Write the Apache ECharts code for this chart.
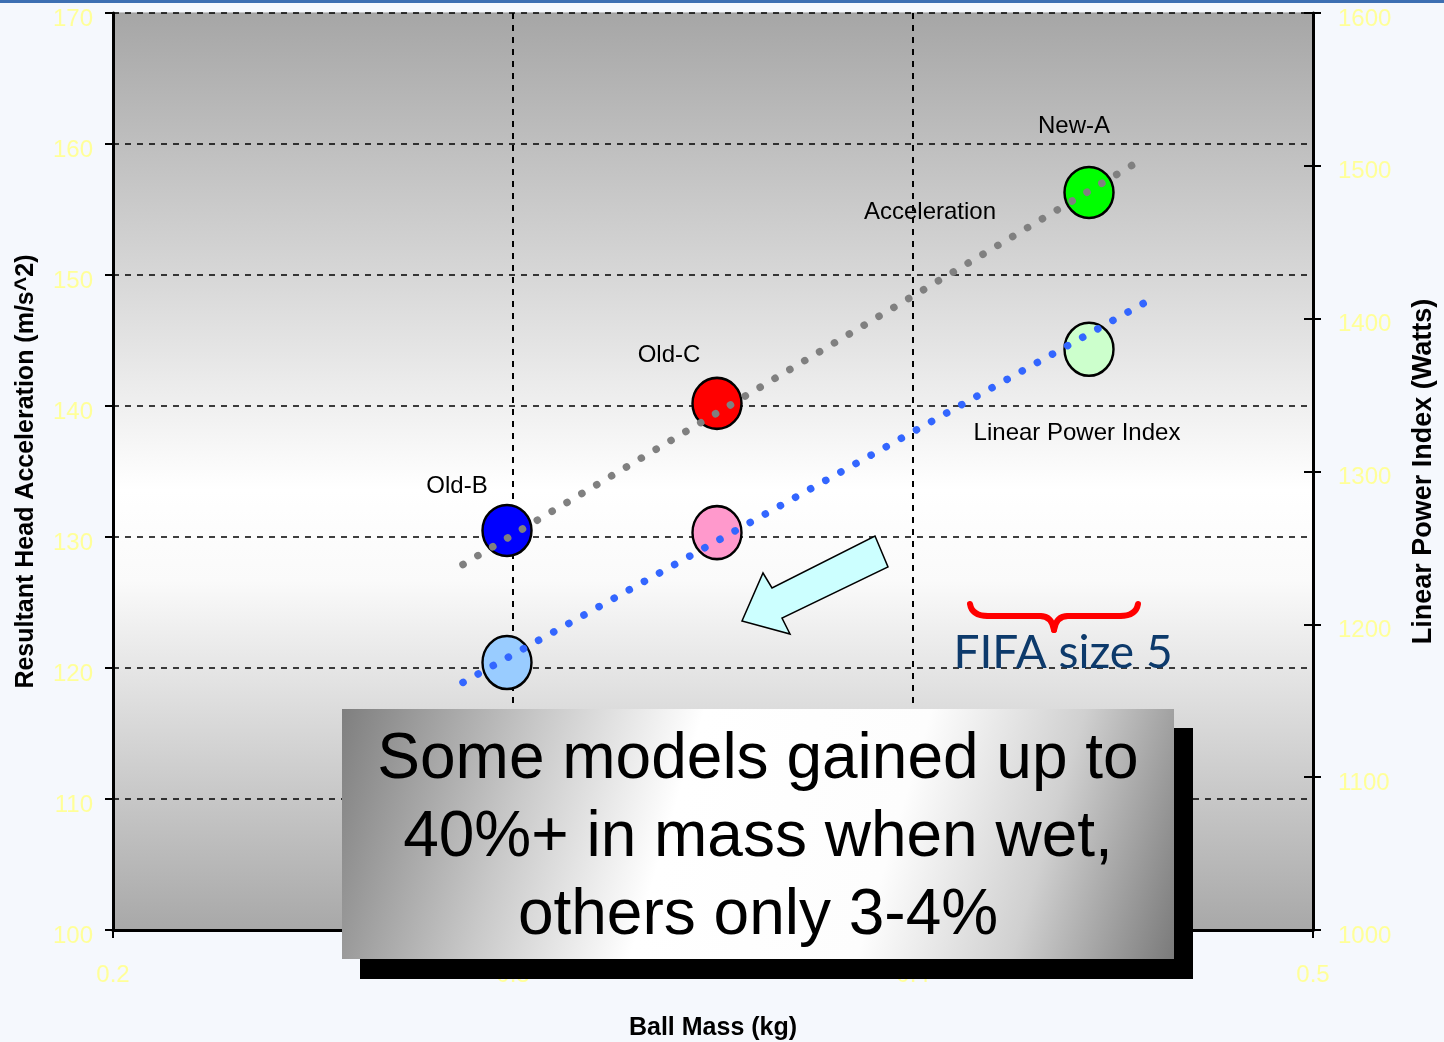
<!DOCTYPE html>
<html>
<head>
<meta charset="utf-8">
<script src="https://cdn.jsdelivr.net/npm/echarts@6/dist/echarts.min.js"></script>
<style>
html,body{margin:0;padding:0;background:#f5f8fd;}
#top{position:absolute;left:0;top:0;width:1444px;height:3px;background:#3d6fb2;}
#c{width:1444px;height:1042px;}
</style>
</head>
<body>
<div id="c"></div>
<div id="top"></div>
<script>
// ---- data ----
const ballNames = ['Old-B', 'Old-C', 'New-A'];
const ballMass = [0.2985, 0.351, 0.444];
const acceleration = [130.5, 140.2, 156.3];
const powerIndex = [1175, 1260, 1380];
const accelTrendMass = [0.2875, 0.456];
const accelTrendValue = [127.9, 158.6];
const powerTrendMass = [0.2875, 0.459];
const powerTrendValue = [1162, 1412];
const xTicks = [0.2, 0.3, 0.4, 0.5];
const accelTicks = [100, 110, 120, 130, 140, 150, 160, 170];
const powerTicks = [1000, 1100, 1200, 1300, 1400, 1500, 1600];

// ---- styles ----
const accelColors = ['#0000ff', '#ff0000', '#00ff00'];
const powerColors = ['#99ccff', '#ff99cc', '#ccffcc'];
const nameOffsets = [[-50, -44], [-48, -48], [-15, -66]];
const tickFont = 'Liberation Sans, Arial, sans-serif';

const chart = echarts.init(document.getElementById('c'));

const accelPoints = ballMass.map((m, i) => ({
  value: [m, acceleration[i]],
  name: ballNames[i],
  itemStyle: { color: accelColors[i] },
  label: { show: true, formatter: ballNames[i], position: 'inside', offset: nameOffsets[i],
           color: '#000', fontSize: 24, fontFamily: tickFont }
}));
const powerPoints = ballMass.map((m, i) => ({
  value: [m, powerIndex[i]],
  itemStyle: { color: powerColors[i] }
}));

const braceStyle = { stroke: '#ff0000', lineWidth: 6, lineCap: 'round', fill: 'none' };
const plain = v => String(v);

const option = {
  backgroundColor: '#f5f8fd',
  animation: false,
  grid: {
    left: 113, right: 131, top: 13, bottom: 112,
    containLabel: false, outerBoundsMode: 'none',
    show: true, borderColor: '#999', borderWidth: 1,
    backgroundColor: {
      type: 'linear', x: 0, y: 0, x2: 0, y2: 1,
      colorStops: [
        { offset: 0, color: '#a6a6a6' },
        { offset: 0.52, color: '#ffffff' },
        { offset: 0.62, color: '#fafafa' },
        { offset: 1, color: '#a8a8a8' }
      ]
    }
  },
  xAxis: {
    type: 'value', min: xTicks[0], max: xTicks[xTicks.length - 1], interval: 0.1,
    name: 'Ball Mass (kg)', nameLocation: 'middle', nameGap: 86,
    nameTextStyle: { color: '#000', fontSize: 25, fontWeight: 'bold', fontFamily: 'Liberation Sans, Arial, sans-serif' },
    axisLine: { show: true, onZero: false, lineStyle: { color: '#000', width: 3 } },
    axisTick: { show: true, length: 8, lineStyle: { color: '#000', width: 2 } },
    axisLabel: { color: '#ffff99', fontSize: 24, fontFamily: tickFont, margin: 33, formatter: plain },
    splitLine: { show: true, lineStyle: { color: '#000', width: 2, type: [6, 6] } }
  },
  yAxis: [
    {
      type: 'value', min: accelTicks[0], max: accelTicks[accelTicks.length - 1], interval: 10,
      position: 'left',
      name: 'Resultant Head Acceleration (m/s^2)', nameLocation: 'middle', nameGap: 74, nameRotate: 90,
      nameTextStyle: { color: '#000', fontSize: 25, fontWeight: 'bold', fontFamily: 'Liberation Sans, Arial, sans-serif' },
      axisLine: { show: true, onZero: false, lineStyle: { color: '#000', width: 3 } },
      axisTick: { show: true, length: 8, lineStyle: { color: '#000', width: 2 } },
      axisLabel: { color: '#ffff99', fontSize: 24, fontFamily: tickFont, margin: 20, verticalAlign: 'top', lineHeight: 12, formatter: plain },
      splitLine: { show: true, lineStyle: { color: '#000', width: 1.5, type: [6, 6] } }
    },
    {
      type: 'value', min: powerTicks[0], max: powerTicks[powerTicks.length - 1], interval: 100,
      position: 'right',
      name: 'Linear Power Index (Watts)', nameLocation: 'middle', nameGap: 97, nameRotate: 90,
      nameTextStyle: { color: '#000', fontSize: 27, fontWeight: 'bold', fontFamily: 'Liberation Sans, Arial, sans-serif' },
      axisLine: { show: true, onZero: false, lineStyle: { color: '#000', width: 3 } },
      axisTick: { show: true, length: 8, lineStyle: { color: '#000', width: 2 } },
      axisLabel: { color: '#ffff99', fontSize: 24, fontFamily: tickFont, margin: 25, verticalAlign: 'top', lineHeight: 12, formatter: plain },
      splitLine: { show: false }
    },
    {
      type: 'value', min: powerTicks[0], max: powerTicks[powerTicks.length - 1], interval: 100,
      position: 'right',
      axisLine: { show: false },
      axisTick: { show: true, inside: true, length: 9, lineStyle: { color: '#000', width: 2 } },
      axisLabel: { show: false },
      splitLine: { show: false }
    }
  ],
  series: [
    {
      type: 'scatter', yAxisIndex: 0, z: 3,
      symbol: 'circle', symbolSize: [49, 51],
      itemStyle: { borderColor: '#000', borderWidth: 2.5, opacity: 1 },
      data: accelPoints
    },
    {
      type: 'scatter', yAxisIndex: 1, z: 3,
      symbol: 'circle', symbolSize: [49, 53],
      itemStyle: { borderColor: '#000', borderWidth: 2.5, opacity: 1 },
      data: powerPoints
    },
    {
      type: 'line', yAxisIndex: 0, z: 5, symbol: 'none',
      lineStyle: { color: '#808080', width: 7.5, type: [0.1, 17.2], cap: 'round' },
      data: accelTrendMass.map((m, i) => [m, accelTrendValue[i]])
    },
    {
      type: 'line', yAxisIndex: 1, z: 5, symbol: 'none',
      lineStyle: { color: '#3366ff', width: 7.5, type: [0.1, 17.2], cap: 'round' },
      data: powerTrendMass.map((m, i) => [m, powerTrendValue[i]])
    }
  ],
  graphic: [
    { type: 'text', z: 50, style: { x: 930, y: 212, text: 'Acceleration', fill: '#000', font: '24px Liberation Sans, Arial, sans-serif', textAlign: 'center', textVerticalAlign: 'middle' } },
    { type: 'text', z: 50, style: { x: 1077, y: 433, text: 'Linear Power Index', fill: '#000', font: '24px Liberation Sans, Arial, sans-serif', textAlign: 'center', textVerticalAlign: 'middle' } },
    { type: 'polygon', z: 50, shape: { points: [[875, 536], [888, 567], [782, 618], [790, 634], [742, 621], [763, 573], [772, 588]] },
      style: { fill: '#ccffff', stroke: '#000', lineWidth: 1.5 } },
    { type: 'bezierCurve', z: 50, shape: { x1: 970, y1: 604, x2: 988, y2: 616, cpx1: 972, cpy1: 616 }, style: braceStyle },
    { type: 'line', z: 50, shape: { x1: 988, y1: 616, x2: 1040, y2: 616 }, style: braceStyle },
    { type: 'bezierCurve', z: 50, shape: { x1: 1040, y1: 616, x2: 1054, y2: 630, cpx1: 1052, cpy1: 616 }, style: braceStyle },
    { type: 'bezierCurve', z: 50, shape: { x1: 1054, y1: 630, x2: 1068, y2: 616, cpx1: 1056, cpy1: 616 }, style: braceStyle },
    { type: 'line', z: 50, shape: { x1: 1068, y1: 616, x2: 1120, y2: 616 }, style: braceStyle },
    { type: 'bezierCurve', z: 50, shape: { x1: 1120, y1: 616, x2: 1138, y2: 604, cpx1: 1136, cpy1: 616 }, style: braceStyle },
    { type: 'text', z: 50, style: { x: 1063, y: 653, text: 'FIFA size 5', fill: '#0d3a6b', font: '46px Lato, Open Sans, sans-serif', textAlign: 'center', textVerticalAlign: 'middle' } },
    { type: 'rect', z: 60, shape: { x: 360, y: 728, width: 833, height: 251 }, style: { fill: '#000' } },
    { type: 'rect', z: 61, shape: { x: 342, y: 709, width: 832, height: 250 },
      style: { fill: { type: 'linear', x: 0, y: 0, x2: 1, y2: 1, global: false,
        colorStops: [ { offset: 0, color: '#7f7f7f' }, { offset: 0.22, color: '#c8c8c8' }, { offset: 0.4, color: '#ffffff' },
                      { offset: 0.65, color: '#fdfdfd' }, { offset: 0.82, color: '#d0d0d0' }, { offset: 1, color: '#7a7a7a' } ] } } },
    { type: 'text', z: 62, style: { x: 758, y: 838, text: 'Some models gained up to\n40%+ in mass when wet,\nothers only 3-4%', fill: '#000',
      font: '64px Liberation Sans, Arial, sans-serif', lineHeight: 78, textAlign: 'center', textVerticalAlign: 'middle' } }
  ]
};
chart.setOption(option);
</script>
</body>
</html>
